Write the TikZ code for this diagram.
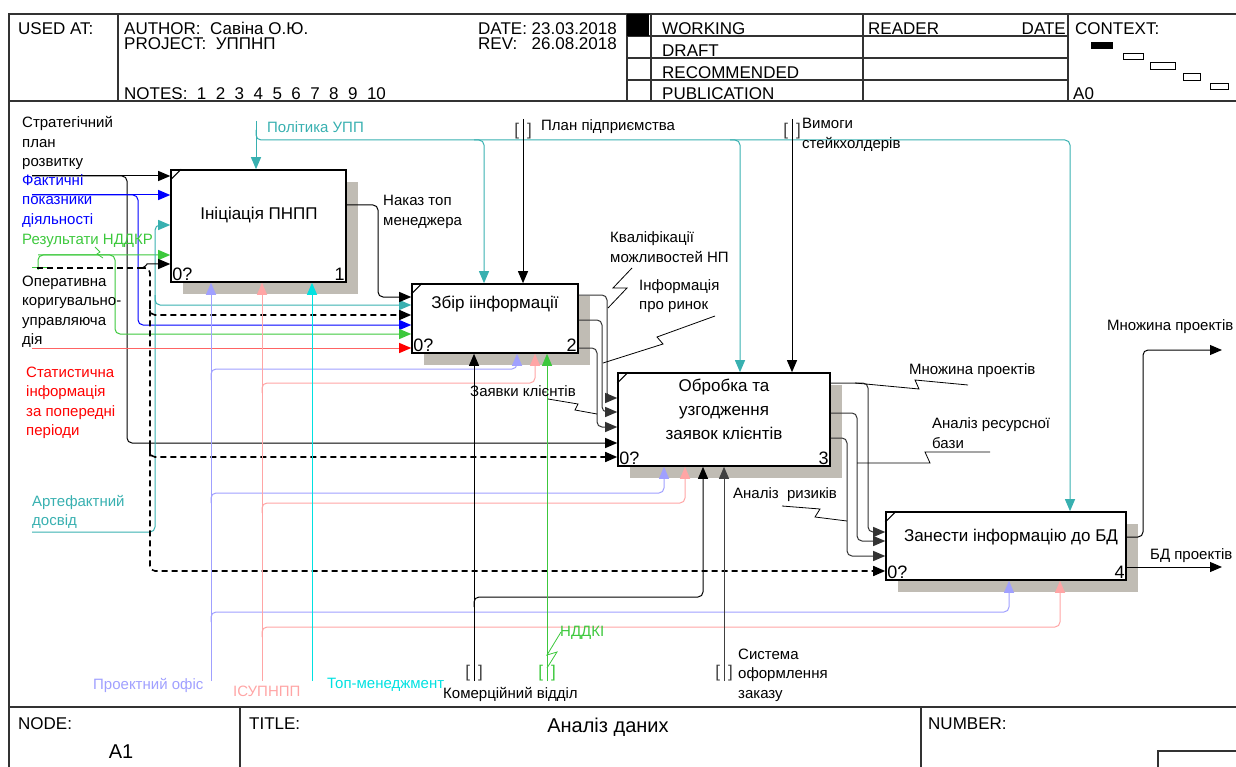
\documentclass[tikz,border=0pt]{standalone}
\usepackage{fontspec}
\setmainfont{Liberation Sans}
\usetikzlibrary{arrows.meta,calc,shadows,backgrounds}
\definecolor{cTeal}{RGB}{56,176,176}
\definecolor{cBlue}{RGB}{0,0,255}
\definecolor{cGreen}{RGB}{60,200,60}
\definecolor{cRedLine}{RGB}{255,100,100}
\definecolor{cLav}{RGB}{160,160,255}
\definecolor{cPink}{RGB}{255,165,165}
\definecolor{cCyan}{RGB}{0,225,225}
\definecolor{cShade}{RGB}{192,188,180}
\definecolor{cFrame}{RGB}{50,50,50}
\newcommand\hdrsize{\fontsize{17}{20}\selectfont}
\newcommand\boxsize{\fontsize{17}{24}\selectfont}
\newcommand\numsize{\fontsize{18}{20}\selectfont}
\newcommand\lblsize{\fontsize{15}{19.5}\selectfont}
\newcommand\ttlsize{\fontsize{20}{24}\selectfont}
\tikzset{
  frame/.style={draw=cFrame,line width=1.2pt},
  hdr/.style={font=\hdrsize,inner sep=0pt,anchor=base west},
  % function boxes
  func/.style={draw,line width=1.6pt,fill=white,
    general shadow={fill=cShade,shadow xshift=12pt,shadow yshift=-12pt}},
  functext/.style={font=\boxsize,align=center,inner sep=0pt},
  numtext/.style={font=\numsize,inner sep=2pt},
  % connectors
  flow/.style={line width=1pt,rounded corners=5pt},
  arr/.style={-{Triangle[length=12pt,width=10pt]}},
  redarr/.style={-{Triangle[length=12pt,width=10pt,color=red]}},
  opline/.style={line width=1.6pt,dash pattern=on 6pt off 4pt},
  squig/.style={line width=0.8pt},
  % labels
  lbl/.style={font=\lblsize,align=left,inner sep=0pt,anchor=west},
  tunnel/.style={font=\fontsize{17}{20}\selectfont,inner sep=0pt,text=black!75},
}
\begin{document}
\begin{tikzpicture}[x=1pt,y=-1pt]
\useasboundingbox (0,0) rectangle (1236,767);

%% ---- header ----
\draw[frame] (9,770) -- (9,14) -- (1240,14);
\draw[frame] (9,101) -- (1240,101);
\foreach \xx in {118,627,651,863,1068}
  \draw[frame] (\xx,14) -- (\xx,101);
\foreach \yy in {36,58,80}
  \draw[frame] (627,\yy) -- (1068,\yy);
\fill (627,14) rectangle (649,36);
\node[hdr] (usedat) at (18,35) {USED AT:};
\node[hdr] (author) at (124,35) {AUTHOR:\ \ Савіна О.Ю.};
\node[hdr] (project) at (124,50) {PROJECT:\ \ УППНП};
\node[hdr] (notes) at (124,100) {NOTES:\ \ 1\ \ 2\ \ 3\ \ 4\ \ 5\ \ 6\ \ 7\ \ 8\ \ 9\ \ 10};
\node[hdr] (date) at (478,35) {DATE:};
\node[hdr,anchor=base east] (dateval) at (617,35) {23.03.2018};
\node[hdr] (rev) at (478,50) {REV:};
\node[hdr,anchor=base east] (revval) at (617,50) {26.08.2018};
\node[hdr] (working) at (662,35) {WORKING};
\node[hdr] (draft) at (662,57) {DRAFT};
\node[hdr] (recom) at (662,79) {RECOMMENDED};
\node[hdr] (public) at (662,100) {PUBLICATION};
\node[hdr] (reader) at (868,35) {READER};
\node[hdr,anchor=base east] (rdate) at (1066,35) {DATE};
\node[hdr] (context) at (1075,35) {CONTEXT:};
\node[hdr] (azero) at (1073,100) {A0};
\fill (1091,42) rectangle (1113,49);
\draw[line width=0.8pt] (1123,53) rectangle (1143,59);
\draw[line width=0.8pt] (1150,62) rectangle (1175,69);
\draw[line width=0.8pt] (1183,73) rectangle (1200,80);
\draw[line width=0.8pt] (1210,83) rectangle (1228,89);

%% ---- footer ----
\draw[frame] (9,707) -- (1240,707);
\draw[frame] (240,707) -- (240,770);
\draw[frame] (921,707) -- (921,770);
\draw[frame] (1240,751) -- (1158,751) -- (1158,770);
\node[hdr] (node) at (18,729) {NODE:};
\node[hdr] (title) at (249,729) {TITLE:};
\node[hdr] (number) at (928,729) {NUMBER:};
\node[font=\ttlsize,inner sep=0pt] (nodeval) at (121,752) {A1};
\node[font=\ttlsize,inner sep=0pt] (titleval) at (608,727) {Аналіз даних};

%% ---- function boxes ----
\node[func,minimum width=175pt,minimum height=112pt] (b1) at (258.5,226) {};
\node[func,minimum width=166pt,minimum height=69pt] (b2) at (495,318.5) {};
\node[func,minimum width=212pt,minimum height=93pt] (b3) at (724,419.5) {};
\node[func,minimum width=240pt,minimum height=68pt] (b4) at (1006,546) {};
\foreach \b in {b1,b2,b3,b4}{
  \draw[line width=1pt] ([yshift=-11pt]\b.north west) -- ([xshift=11pt]\b.north west);
  \node[numtext,anchor=south west] (\b o) at (\b.south west) {0?};
}
\node[numtext,anchor=south east] (b1n) at (b1.south east) {1};
\node[numtext,anchor=south east] (b2n) at (b2.south east) {2};
\node[numtext,anchor=south east] (b3n) at (b3.south east) {3};
\node[numtext,anchor=south east] (b4n) at (b4.south east) {4};
\node[functext] (b1t) at (259,215) {Ініціація ПНПП};
\node[functext] (b2t) at (495,304) {Збір іінформації};
\node[functext] (b3t) at (724,409) {Обробка та\\узгодження\\заявок клієнтів};
\node[functext] (b4t) at (1011,537) {Занести інформацію до БД};

%% ---- inputs ----
\coordinate (sStrat) at (32,176);
\coordinate (sFact) at (32,195);
\coordinate (sRD) at (38,255);
\coordinate (sOp) at (37,268);
\coordinate (sStat) at (32,348);
\coordinate (sArt) at (32,532);
\draw[flow,arr] (sStrat) -- (b1.west |- sStrat);
\draw[flow,arr] (sStrat) -- (127,176) -- (127,443) -- (b3.west |- 0,443);
\draw[flow,arr,cBlue] (sFact) -- (b1.west |- sFact);
\draw[flow,arr,cBlue] (sFact) -- (138,195) -- (138,325) -- (b2.west |- 0,325);
\draw[flow,arr,cGreen] (38,270) -- (sRD) -- (b1.west |- sRD);
\draw[flow,cGreen] (32,268) -- (52,268);
\draw[flow,arr,cGreen] (sRD) -- (115,255) -- (115,334) -- (b2.west |- 0,334);
\draw[flow,arr,cTeal] (sArt) -- (155,532) -- (155,225) -- (b1.west |- 0,225);
\draw[flow,arr,cTeal] (155,295) -- (155,305) -- (b2.west |- 0,305);
\draw[opline] (sOp) -- (140,268);
\draw[flow,arr] (140,268) to[out=0,in=180] (152,264) -- (b1.west |- 0,264);
\draw[flow,arr,opline] (140,268) -- (150,268) -- (150,571) -- (b4.west |- 0,571);
\draw[flow,arr,opline] (150,303) -- (150,315) -- (b2.west |- 0,315);
\draw[flow,arr,opline] (150,445) -- (150,457) -- (b3.west |- 0,457);
\draw[flow,redarr,cRedLine] (sStat) -- (b2.west |- sStat);

%% ---- controls ----
\coordinate (cPol) at (256,121);
\coordinate (cPlan) at (523,119);
\coordinate (cVym) at (792,119);
\draw[flow,arr,cTeal] (cPol) -- (cPol |- b1.north);
\draw[flow,arr,cTeal] (256,130) -- (256,140) -- (1070,140) -- (1070,140 |- b4.north);
\draw[flow,arr,cTeal] (474,140) -- (484,140) -- (484,140 |- b2.north);
\draw[flow,arr,cTeal] (730,140) -- (740,140) -- (740,140 |- b3.north);
\draw[flow,arr] (cPlan) -- (cPlan |- b2.north);
\draw[flow,arr] (cVym) -- (cVym |- b3.north);
\node[tunnel] (tPlan) at (cPlan |- 0,131) {[\hspace{8pt}]};
\node[tunnel] (tVym) at (cVym |- 0,131) {[\hspace{8pt}]};

%% ---- mechanisms ----
\coordinate (mPO) at (211,681);
\coordinate (mIS) at (262,681);
\coordinate (mTop) at (312,681);
\coordinate (mKV) at (474,681);
\coordinate (mND) at (547,681);
\coordinate (mSys) at (724,681);
\draw[flow,arr,cLav] (mPO) -- (mPO |- b1.south);
\draw[flow,arr,cLav] (211,380) -- (211,369) -- (517,369) -- (517,369 |- b2.south);
\draw[flow,arr,cLav] (211,503) -- (211,493) -- (664,493) -- (664,493 |- b3.south);
\draw[flow,arr,cLav] (211,622) -- (211,612) -- (1009,612) -- (1009,612 |- b4.south);
\draw[flow,arr,cPink] (mIS) -- (mIS |- b1.south);
\draw[flow,arr,cPink] (262,393) -- (262,383) -- (535,383) -- (535,383 |- b2.south);
\draw[flow,arr,cPink] (262,513) -- (262,503) -- (685,503) -- (685,503 |- b3.south);
\draw[flow,arr,cPink] (262,637) -- (262,627) -- (1060,627) -- (1060,627 |- b4.south);
\draw[flow,arr,cCyan] (mTop) -- (mTop |- b1.south);
\draw[flow,arr] (mKV) -- (mKV |- b2.south);
\draw[flow,arr] (474,607) -- (474,597) -- (703,597) -- (703,597 |- b3.south);
\draw[flow,arr,cGreen] (mND) -- (mND |- b2.south);
\draw[flow,arr,black!75] (mSys) -- (mSys |- b3.south);
\node[tunnel] (tKV) at (mKV |- 0,673) {[\hspace{8pt}]};
\node[tunnel,text=cGreen] (tND) at (mND |- 0,673) {[\hspace{8pt}]};
\node[tunnel] (tSys) at (mSys |- 0,673) {[\hspace{8pt}]};

%% ---- outputs ----
\draw[flow,arr] (b1.east |- 0,205) -- (378,205) -- (378,297) -- (b2.west |- 0,297);
\draw[flow,arr,black!80] (b2.east |- 0,295) -- (607,295) -- (607,398) -- (b3.west |- 0,398);
\draw[flow,arr,black!80] (b2.east |- 0,320) -- (602,320) -- (602,412) -- (b3.west |- 0,412);
\draw[flow,arr,black!80] (b2.east |- 0,348) -- (597,348) -- (597,427) -- (b3.west |- 0,427);
\draw[flow,arr,black!80] (b3.east |- 0,383) -- (868,383) -- (868,532) -- (b4.west |- 0,532);
\draw[flow,arr,black!80] (b3.east |- 0,413) -- (857,413) -- (857,541) -- (b4.west |- 0,541);
\draw[flow,arr,black!80] (b3.east |- 0,438) -- (847,438) -- (847,556) -- (b4.west |- 0,556);
\coordinate (oMn) at (1222,350);
\coordinate (oBD) at (1222,567);
\draw[flow,arr] (b4.east |- 0,537) -- (1143,537) -- (1143,350) -- (oMn);
\draw[flow,arr] (b4.east |- oBD) -- (oBD);

%% ---- squiggles ----
\draw[squig,cGreen] (95,247) -- (100,252) -- (97,254) -- (103,258);
\draw[squig] (632,268) -- (613,288) -- (627,288) -- (608,308);
\draw[squig] (715,316) -- (657,337) -- (663,344) -- (603,363);
\draw[squig] (548,399) -- (578,404) -- (575,410) -- (597,414);
\draw[squig] (968,385) -- (915,380) -- (919,389) -- (855,383);
\draw[squig] (990,452) -- (925,452) -- (930,463) -- (857,463);
\draw[squig] (782,506) -- (820,509) -- (815,517) -- (847,521);
\draw[squig,cGreen] (561,632) -- (547,655) -- (557,652) -- (547,668);

%% ---- arrow labels ----
\node[lbl] (lStrat) at (22,143) {Стратегічний\\план\\розвитку};
\node[lbl,text=cBlue] (lFact) at (22,201) {Фактичні\\показники\\діяльності};
\node[lbl,text=cGreen] (lRD) at (22,241) {Результати НДДКР};
\node[lbl] (lOp) at (22,312) {Оперативна\\коригувально-\\управляюча\\дія};
\node[lbl,text=red] (lStat) at (26,403) {Статистична\\інформація\\за попередні\\періоди};
\node[lbl,text=cTeal] (lArt) at (32,512) {Артефактний\\досвід};
\node[lbl,text=cTeal] (lPol) at (267,127) {Політика УПП};
\node[lbl] (lPlan) at (541,127) {План підприємства};
\node[lbl] (lVym) at (802,135) {Вимоги\\стейкхолдерів};
\node[lbl] (lNak) at (383,212) {Наказ топ\\менеджера};
\node[lbl] (lKval) at (610,247) {Кваліфікації\\можливостей НП};
\node[lbl] (lRyn) at (639,296) {Інформація\\про ринок};
\node[lbl] (lZay) at (470,391) {Заявки клієнтів};
\node[lbl] (lMn1) at (909,371) {Множина проектів};
\node[lbl] (lRes) at (932,433) {Аналіз ресурсної\\бази};
\node[lbl] (lRyz) at (733,495) {Аналіз\ \ ризиків};
\node[lbl] (lMn2) at (1107,327) {Множина проектів};
\node[lbl] (lBD) at (1150,556) {БД проектів};
\node[lbl,text=cLav] (lPO) at (93,685) {Проектний офіс};
\node[lbl,text=cPink] (lIS) at (233,691) {ІСУПНПП};
\node[lbl,text=cCyan] (lTop) at (327,685) {Топ-менеджмент};
\node[lbl] (lKV) at (443,694) {Комерційний відділ};
\node[lbl,text=cGreen] (lND) at (560,633) {НДДКІ};
\node[lbl] (lSys) at (738,675) {Система\\оформлення\\заказу};
\end{tikzpicture}
\end{document}
